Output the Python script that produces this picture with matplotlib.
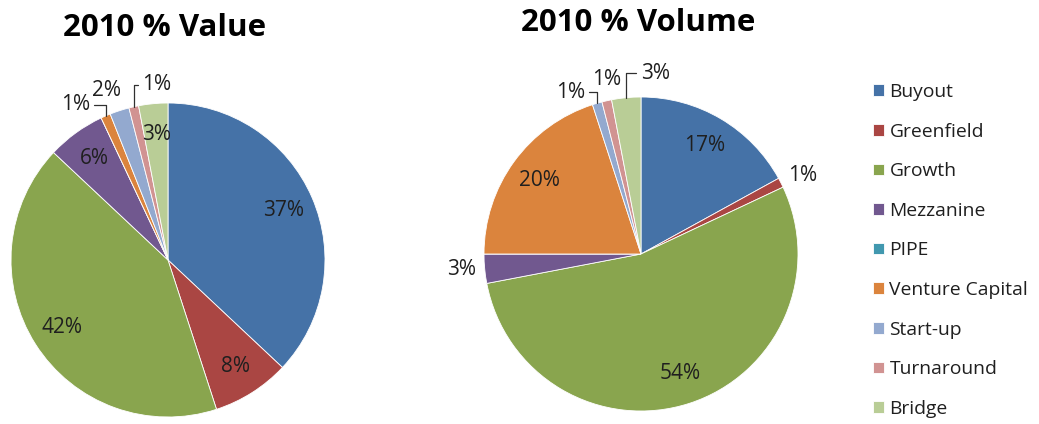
import matplotlib
matplotlib.use("Agg")
import numpy as np
import matplotlib.pyplot as plt

plt.rcParams["font.family"] = ["Open Sans", "DejaVu Sans"]

# ── data ──────────────────────────────────────────────────────────────────────
categories = ["Buyout", "Greenfield", "Growth", "Mezzanine", "PIPE",
              "Venture Capital", "Start-up", "Turnaround", "Bridge"]
value_pct = [37, 8, 42, 6, 0, 1, 2, 1, 3]
volume_pct = [17, 1, 54, 3, 0, 20, 1, 1, 3]

colors = ["#4572A7", "#AA4643", "#89A54E", "#71588F", "#4198AF",
          "#DB843D", "#93A9CF", "#D19392", "#B9CD96"]

# labels that sit outside the pie: (x, y) in pie-radius units, leader line?
value_outside = {
    "Venture Capital": ((-0.59, 0.99), True),
    "Start-up": ((-0.39, 1.08), False),
    "Turnaround": ((-0.07, 1.115), True),
}
volume_outside = {
    "Greenfield": ((1.03, 0.50), False),
    "Mezzanine": ((-1.14, -0.10), False),
    "Start-up": ((-0.45, 1.03), True),
    "Turnaround": ((-0.22, 1.11), False),
    "Bridge": ((0.09, 1.15), True),
}

W, H = 1039, 424
fig = plt.figure(figsize=(W / 100, H / 100), dpi=100)
fig.patch.set_facecolor("white")

TXT = "#1f1f1f"
LBL_SIZE = 15


def pie_axes(cx, cy, r):
    # square axes centred on (cx, cy) pixels from top-left, radius r pixels
    return fig.add_axes([(cx - r) / W, (H - cy - r) / H, 2 * r / W, 2 * r / H])


def draw_pie(ax, vals, outside):
    wedges, _ = ax.pie(vals, colors=colors, startangle=90, counterclock=False,
                       wedgeprops=dict(edgecolor="white", linewidth=0.6))
    ax.set_xlim(-1, 1)
    ax.set_ylim(-1, 1)
    ax.axis("off")
    for cat, v, w in zip(categories, vals, wedges):
        if v <= 0:
            continue
        mid = np.deg2rad((w.theta1 + w.theta2) / 2)
        if cat in outside:
            (tx, ty), leader = outside[cat]
            if leader:
                ax.annotate(f"{v}%", xy=(np.cos(mid), np.sin(mid)),
                            xytext=(tx, ty), ha="center", va="center",
                            fontsize=LBL_SIZE, color=TXT, annotation_clip=False,
                            arrowprops=dict(arrowstyle="-", color="#303030", lw=0.9,
                                            shrinkA=1, shrinkB=0,
                                            connectionstyle="angle,angleA=0,angleB=90,rad=0"))
            else:
                ax.text(tx, ty, f"{v}%", ha="center", va="center",
                        fontsize=LBL_SIZE, color=TXT, clip_on=False)
        else:
            ax.text(0.8 * np.cos(mid), 0.8 * np.sin(mid), f"{v}%",
                    ha="center", va="center", fontsize=LBL_SIZE, color=TXT)
    return wedges


ax1 = pie_axes(168, 260, 157)
wedges = draw_pie(ax1, value_pct, value_outside)

ax2 = pie_axes(641, 254, 157)
draw_pie(ax2, volume_pct, volume_outside)

fig.text(165 / W, 1 - 28 / H, "2010 % Value", ha="center", va="center",
         fontsize=22.5, fontweight="bold", color="black")
fig.text(638 / W, 1 - 23 / H, "2010 % Volume", ha="center", va="center",
         fontsize=22.5, fontweight="bold", color="black")

fig.legend(wedges, categories, loc="upper left",
           bbox_to_anchor=(873 / W, 1 - 83 / H), frameon=False,
           fontsize=13.9, handlelength=0.55, handleheight=0.55, handletextpad=0.3,
           labelspacing=1.12, borderpad=0, borderaxespad=0, labelcolor=TXT)

fig.savefig("out.png", dpi=100, facecolor="white")
